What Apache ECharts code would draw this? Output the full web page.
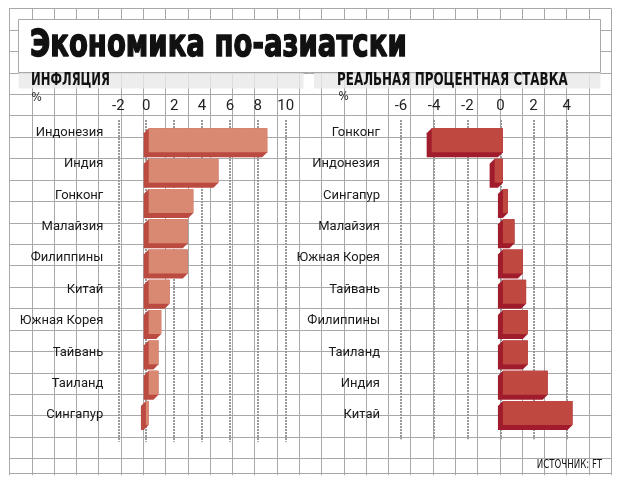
<!DOCTYPE html>
<html>
<head>
<meta charset="utf-8">
<script src="https://cdn.jsdelivr.net/npm/echarts@6/dist/echarts.min.js"></script>
<style>
html,body{margin:0;padding:0;background:#fff;}
#chart{width:626px;height:489px;}
</style>
</head>
<body>
<div id="chart"></div>
<script>
// ---- data ----
const titleText = 'Экономика по-азиатски';
const leftTitle = 'ИНФЛЯЦИЯ';
const rightTitle = 'РЕАЛЬНАЯ ПРОЦЕНТНАЯ СТАВКА';
const unitLabel = '%';
const sourceText = 'ИСТОЧНИК: FT';

const leftCategories = ['Индонезия','Индия','Гонконг','Малайзия','Филиппины','Китай','Южная Корея','Тайвань','Таиланд','Сингапур'];
const leftValues = [8.5, 5.0, 3.2, 2.8, 2.8, 1.5, 0.9, 0.7, 0.7, -0.2];
const leftTicks = [-2, 0, 2, 4, 6, 8, 10];

const rightCategories = ['Гонконг','Индонезия','Сингапур','Малайзия','Южная Корея','Тайвань','Филиппины','Таиланд','Индия','Китай'];
const rightValues = [-4.3, -0.5, 0.3, 0.7, 1.2, 1.4, 1.5, 1.5, 2.7, 4.2];
const rightTicks = [-6, -4, -2, 0, 2, 4];

// ---- styling ----
const COND = '"DejaVu Sans Condensed","DejaVu Sans",sans-serif';
const LABEL_FONT = 'Roboto,"Noto Sans",sans-serif';
const GRID_COLOR = '#a8a8a8';

const chart = echarts.init(document.getElementById('chart'), null, {renderer:'canvas'});

function barRenderer(faceColor, darkColor) {
  return function (params, api) {
    const v = api.value(0);
    const c = api.value(1);
    const p0 = api.coord([0, c]);
    const p1 = api.coord([v, c]);
    const h = 24, d = 2.5;
    const x0 = Math.min(p0[0], p1[0]), x1 = Math.max(p0[0], p1[0]);
    const y0 = p0[1] - h / 2, y1 = p0[1] + h / 2;
    const bx0 = x0 - d, bx1 = x1 - d, by0 = y0 + d, by1 = y1 + d;
    const fx0 = x0 + d, fx1 = x1 + d, fy0 = y0 - d, fy1 = y1 - d;
    return {
      type: 'group',
      children: [
        {type:'polygon', shape:{points:[[bx0,by0],[fx0,fy0],[fx1,fy0],[fx1,fy1],[bx1,by1],[bx0,by1]]},
         style:{fill:darkColor}},
        {type:'rect', shape:{x:fx0, y:fy0, width:Math.max(fx1-fx0,0.5), height:fy1-fy0},
         style:{fill:faceColor}}
      ]
    };
  };
}

// background graph paper
const bg = [];
const gx0 = 9.3, gx1 = 611, gy0 = 8.3, gy1 = 472.7;
const cellW = (gx1 - gx0) / 27, cellH = 21.43;
for (let i = 0; i <= 27; i++) {
  const x = Math.round(gx0 + i * cellW) + 0.5;
  bg.push({type:'line', z:-20, shape:{x1:x, y1:gy0, x2:x, y2:gy1 + 2.5}, style:{stroke:GRID_COLOR, lineWidth:1}});
}
for (let j = 0; j <= 21; j++) {
  const y = Math.round(gy0 + j * cellH) + 0.5;
  bg.push({type:'line', z:-20, shape:{x1:gx0, y1:y, x2:gx1, y2:y}, style:{stroke:GRID_COLOR, lineWidth:1}});
}
bg.push({type:'line', z:-20, shape:{x1:gx0, y1:Math.round(gy1)+0.5, x2:gx1, y2:Math.round(gy1)+0.5}, style:{stroke:GRID_COLOR, lineWidth:1}});
// title box
bg.push({type:'rect', z:-15, shape:{x:18.5, y:19.5, width:582, height:53}, style:{fill:'#fff', stroke:GRID_COLOR, lineWidth:1}});
// sub-title bands
bg.push({type:'rect', z:-14, shape:{x:18.5, y:73, width:285, height:15.5}, style:{fill:'rgba(232,232,232,0.8)'}});
bg.push({type:'rect', z:-14, shape:{x:314, y:73, width:286.5, height:15.5}, style:{fill:'rgba(232,232,232,0.8)'}});
// texts
bg.push({type:'text', z:10, x:30, y:46, scaleX:0.725, style:{text:titleText, font:'bold 38px "DejaVu Sans"', fill:'#111', stroke:'#111', lineWidth:1.6, align:'left', verticalAlign:'middle'}});
bg.push({type:'text', z:10, x:31, y:80.5, scaleX:0.76, style:{text:leftTitle, font:'bold 17px ' + COND, fill:'#111', align:'left', verticalAlign:'middle'}});
bg.push({type:'text', z:10, x:337, y:80.5, scaleX:0.78, style:{text:rightTitle, font:'bold 17px ' + COND, fill:'#111', align:'left', verticalAlign:'middle'}});
bg.push({type:'text', z:10, x:31.5, y:98, style:{text:unitLabel, font:'12px ' + COND, fill:'#222', align:'left', verticalAlign:'middle'}});
bg.push({type:'text', z:10, x:338.5, y:97, style:{text:unitLabel, font:'12px ' + COND, fill:'#222', align:'left', verticalAlign:'middle'}});
bg.push({type:'text', z:10, x:602, y:464.5, scaleX:0.8, style:{text:sourceText, font:'12px ' + COND, fill:'#111', align:'right', verticalAlign:'middle'}});

function dottedAxis(gridIndex, ticks) {
  return {
    type:'value', gridIndex, position:'top',
    min: ticks[0], max: ticks[ticks.length-1], interval: ticks[1]-ticks[0],
    axisLine:{show:false}, axisTick:{show:false},
    axisLabel:{color:'#222', fontFamily:LABEL_FONT, fontSize:15, margin:6},
    splitLine:{show:true, lineStyle:{color:'#9a9a9a', width:2, type:[2,1]}}
  };
}
function hiddenValueAxis(gridIndex, ticks) {
  return {type:'value', gridIndex, min: ticks[0], max: ticks[ticks.length-1], interval: ticks[1]-ticks[0], show:false};
}

const option = {
  animation:false,
  backgroundColor:'#fff',
  graphic: bg,
  grid: [
    {left:118.3, top:120, width:167.4, height:321.7},   // 0 left dotted
    {left:118.3, top:127.7, width:167.4, height:302.9}, // 1 left bars
    {left:108, top:117.1, width:10, height:313.6},      // 2 left labels
    {left:401, top:120, width:165.7, height:319.3},     // 3 right dotted
    {left:401, top:127.7, width:165.7, height:302.9},   // 4 right bars
    {left:385, top:117.1, width:10, height:313.6}       // 5 right labels
  ],
  xAxis: [
    dottedAxis(0, leftTicks),
    hiddenValueAxis(1, leftTicks),
    {type:'value', gridIndex:2, show:false},
    dottedAxis(3, rightTicks),
    hiddenValueAxis(4, rightTicks),
    {type:'value', gridIndex:5, show:false}
  ],
  yAxis: [
    {type:'value', gridIndex:0, show:false},
    {type:'category', gridIndex:1, data:leftCategories, inverse:true, show:false},
    {type:'category', gridIndex:2, data:leftCategories, inverse:true, axisLine:{show:false}, axisTick:{show:false},
     axisLabel:{color:'#1a1a1a', fontFamily:LABEL_FONT, fontSize:13, margin:4.7}},
    {type:'value', gridIndex:3, show:false},
    {type:'category', gridIndex:4, data:rightCategories, inverse:true, show:false},
    {type:'category', gridIndex:5, data:rightCategories, inverse:true, axisLine:{show:false}, axisTick:{show:false},
     axisLabel:{color:'#1a1a1a', fontFamily:LABEL_FONT, fontSize:13, margin:5}}
  ],
  series: [
    {type:'custom', name:'Инфляция', xAxisIndex:1, yAxisIndex:1, z:5,
     renderItem: barRenderer('#d98872', '#bb4a40'),
     data: leftValues.map((v, i) => [v, i])},
    {type:'custom', name:'Реальная процентная ставка', xAxisIndex:4, yAxisIndex:4, z:5,
     renderItem: barRenderer('#bf4840', '#a01c2c'),
     data: rightValues.map((v, i) => [v, i])}
  ]
};
chart.setOption(option);
</script>
</body>
</html>
